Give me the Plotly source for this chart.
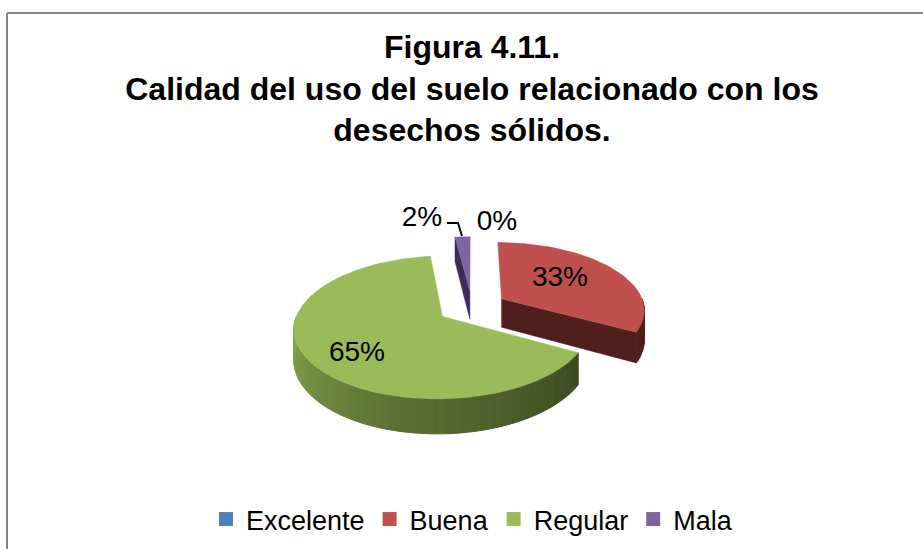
import math
import plotly.graph_objects as go

categories = ["Excelente", "Buena", "Regular", "Mala"]
values = [0, 33, 65, 2]
top_colors = ["#4f81bd", "#c0504d", "#9bbb59", "#8064a2"]
wall_colors = ["#2a4566", "#4f1f1d", "#55682f", "#3a2c54"]

CX, CY = 472, 307
RX, RY = 143, 67
K = 0.15
DEPTH = 29
EXPLODE = 0.245


def proj(a, r, ox=0.0, oy=0.0, drop=0.0):
    """clockwise angle from north in radians, r in unit radius, offset in plane."""
    px = r * math.sin(a) + ox
    py = r * math.cos(a) + oy
    s = 1 / (1 + K * py)
    return CX + RX * px * s, CY - RY * py * s + drop * s


def arc(a0, a1, ox, oy, drop=0.0, n=None):
    n = n or max(2, int(abs(a1 - a0) / math.radians(2)))
    pts = [proj(a0 + (a1 - a0) * i / n, 1, ox, oy, drop) for i in range(n + 1)]
    return pts


def mix(c1, c2, t):
    return "rgb(%d,%d,%d)" % tuple(round(c1[i] + (c2[i] - c1[i]) * t) for i in range(3))


fig = go.Figure()


def poly(pts, color, lw=0.5):
    fig.add_trace(go.Scatter(
        x=[p[0] for p in pts] + [pts[0][0]], y=[p[1] for p in pts] + [pts[0][1]],
        mode="lines", fill="toself", fillcolor=color,
        line=dict(color=color, width=lw), hoverinfo="skip", showlegend=False))


GREEN_L = (138, 168, 80)
GREEN_M = (92, 114, 52)
GREEN_R = (60, 74, 32)


def shade(frac):
    if frac < 0.5:
        return mix(GREEN_L, GREEN_M, frac * 2)
    return mix(GREEN_M, GREEN_R, (frac - 0.5) * 2)


total = sum(values)
start = 0.0
for name, v, top, wall in zip(categories, values, top_colors, wall_colors):
    sweep = 2 * math.pi * v / total
    if v > 0:
        a0, a1 = start, start + sweep
        mid = (a0 + a1) / 2
        ox, oy = EXPLODE * math.sin(mid), EXPLODE * math.cos(mid)
        # start radial face
        if math.sin(a0) < -1e-6:
            poly([proj(0, 0, ox, oy), proj(a0, 1, ox, oy), proj(a0, 1, ox, oy, DEPTH), proj(0, 0, ox, oy, DEPTH)], wall)
        # end radial face
        if math.sin(a1) > 1e-6:
            poly([proj(0, 0, ox, oy), proj(a1, 1, ox, oy), proj(a1, 1, ox, oy, DEPTH), proj(0, 0, ox, oy, DEPTH)], wall)
        # outer wall, front half only
        w0, w1 = max(a0, math.pi / 2), min(a1, 3 * math.pi / 2)
        if w1 > w0:
            n = max(1, int((w1 - w0) / math.radians(1.5)))
            for i in range(n):
                b0 = w0 + (w1 - w0) * i / n
                b1 = w0 + (w1 - w0) * (i + 1) / n
                pts = [proj(b0, 1, ox, oy), proj(b1, 1, ox, oy), proj(b1, 1, ox, oy, DEPTH), proj(b0, 1, ox, oy, DEPTH)]
                if name == "Regular":
                    color = shade(1 - (b0 - w0) / (w1 - w0))
                else:
                    color = wall
                poly(pts, color, 1)
        poly([proj(0, 0, ox, oy)] + arc(a0, a1, ox, oy), top)
    start += sweep

# percentage labels
LABEL_XY = {"Excelente": (497, 223), "Buena": (560, 279), "Regular": (357, 354), "Mala": (422, 219)}
fig.add_trace(go.Scatter(
    x=[LABEL_XY[c][0] for c in categories], y=[LABEL_XY[c][1] for c in categories],
    text=[f"{v}%" for v in values], mode="text", textposition="middle center",
    textfont=dict(family="Liberation Sans", size=28, color="#000000"),
    hoverinfo="skip", showlegend=False))

# leader line for the smallest slice
fig.add_trace(go.Scatter(x=[447, 458, 462], y=[223, 223, 236], mode="lines",
                         line=dict(color="#000000", width=2), hoverinfo="skip", showlegend=False))

# legend entries
for name, top in zip(categories, top_colors):
    fig.add_trace(go.Scatter(x=[None], y=[None], mode="markers", name=name,
                             marker=dict(symbol="square", size=14, color=top)))

fig.update_layout(
    width=923, height=549, autosize=False,
    margin=dict(l=0, r=0, t=0, b=0),
    paper_bgcolor="white", plot_bgcolor="white",
    xaxis=dict(range=[0, 923], visible=False, fixedrange=True),
    yaxis=dict(range=[549, 0], visible=False, fixedrange=True),
    title=dict(
        text="<b>Figura 4.11.<br>Calidad del uso del suelo relacionado con los<br>desechos sólidos.</b>",
        x=472 / 923, xanchor="center", y=1 - 58 / 549, yanchor="top",
        font=dict(family="Liberation Sans", size=32, color="#000000")),
    legend=dict(orientation="h", x=472 / 923, xanchor="center", y=5 / 549, yanchor="bottom",
                font=dict(family="Liberation Sans", size=27, color="#000000"),
                bgcolor="rgba(0,0,0,0)", traceorder="normal"),
    shapes=[
        dict(type="line", xref="x", yref="y", x0=7, x1=7, y0=13, y1=549, line=dict(color="#868686", width=2)),
        dict(type="line", xref="x", yref="y", x0=7, x1=923, y0=13, y1=13, line=dict(color="#868686", width=2)),
    ],
)
fig.write_html("out.html", config={"displayModeBar": False},
               post_script="document.body.style.margin='0';document.body.style.overflow='hidden';")
